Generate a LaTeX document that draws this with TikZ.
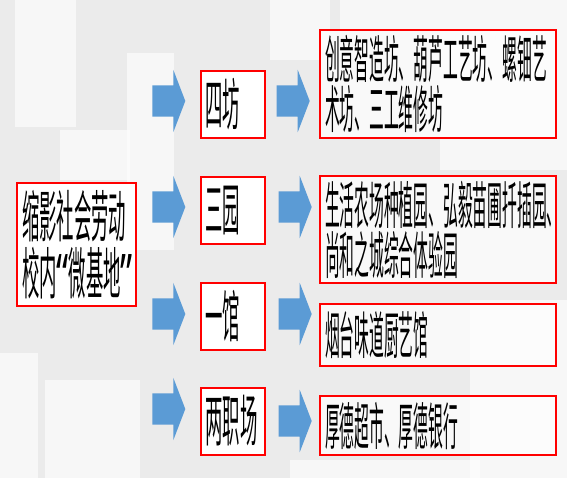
\documentclass[tikz,border=0pt]{standalone}
\usepackage{fontspec}
\newfontfamily\cjk[FakeStretch=0.29]{Noto Sans CJK SC}
\newfontfamily\cjkbig[FakeStretch=0.31]{Noto Sans CJK SC}
\newfontfamily\quotefont[FakeStretch=0.6]{Noto Sans}
\usepackage{tikz}
\usetikzlibrary{shapes.arrows, positioning}
\definecolor{arrowblue}{HTML}{5B9BD5}
\definecolor{boxred}{HTML}{FF0000}
\definecolor{bggray}{HTML}{EBEBEB}

\begin{document}
\begin{tikzpicture}[x=1pt, y=-1pt,
    redbox/.style={draw=boxred, line width=2pt, fill=white, inner sep=5pt, align=left},
    bigtext/.style={font=\cjkbig\fontsize{56}{57}\selectfont},
    smalltext/.style={font=\cjk\fontsize{51}{50}\selectfont},
    blockarrow/.style={single arrow, fill=arrowblue, inner xsep=0pt, inner ysep=15.5pt,
        minimum height=33pt, single arrow head extend=15.5pt, single arrow tip angle=138}]
    \useasboundingbox (0,0) rectangle (567,478);
    % Background panels
    \fill[bggray] (0,0) rectangle (567,478);
    \foreach \xa/\ya/\xb/\yb in {15/0/76/127, 127/53/174/250, 0/353/38/478, 45/380/140/478,
        270/0/330/60, 340/0/440/30, 440/0/567/170, 470/300/567/478, 60/130/130/180, 290/460/480/478} {
        \fill[white, opacity=0.6] (\xa,\ya) rectangle (\xb,\yb);
    }
    % Left box
    \node[redbox, bigtext, text width=109pt, minimum height=123pt] (base) at (76.5,244.5)
        {缩影社会劳动\\校内{\quotefont “}微基地{\quotefont ”}};
    % Middle boxes
    \foreach \n/\y/\t in {sifang/104.5/四坊, sanyuan/210.5/三园, yiguan/316.5/一馆, liangchang/421/两职场} {
        \node[redbox, bigtext, text width=54pt, minimum height=67pt] (\n) at (232.5,\y) {\t};
    }
    % Right boxes
    \foreach \n/\y/\h/\t in {sifangList/84/108/{创意智造坊、葫芦工艺坊、螺钿艺\\术坊、三工维修坊},
        sanyuanList/229.5/107/{生活农场种植园、弘毅苗圃扦插园、\\尚和之城综合体验园},
        yiguanList/335/62/{烟台味道厨艺馆},
        liangchangList/425.5/59/{厚德超市、厚德银行}} {
        \node[redbox, smalltext, fill opacity=0.75, text opacity=1, text width=226pt, minimum height=\h pt] (\n) at (438,\y) {\t};
    }
    % Arrows
    \foreach \n/\y in {sifang/101, sanyuan/207, yiguan/314, liangchang/409} {
        \coordinate (tipIn\n) at (\n.west |- 0,\y);
        \node[blockarrow, anchor=tip] (arrIn\n) at ([xshift=-14pt]tipIn\n) {};
    }
    \foreach \n/\y/\d in {sifang/101/11, sanyuan/207/13, yiguan/314/13, liangchang/421/13} {
        \coordinate (tailOut\n) at (\n.east |- 0,\y);
        \node[blockarrow, anchor=tail] (arrOut\n) at ([xshift=\d pt]tailOut\n) {};
    }
\end{tikzpicture}
\end{document}
